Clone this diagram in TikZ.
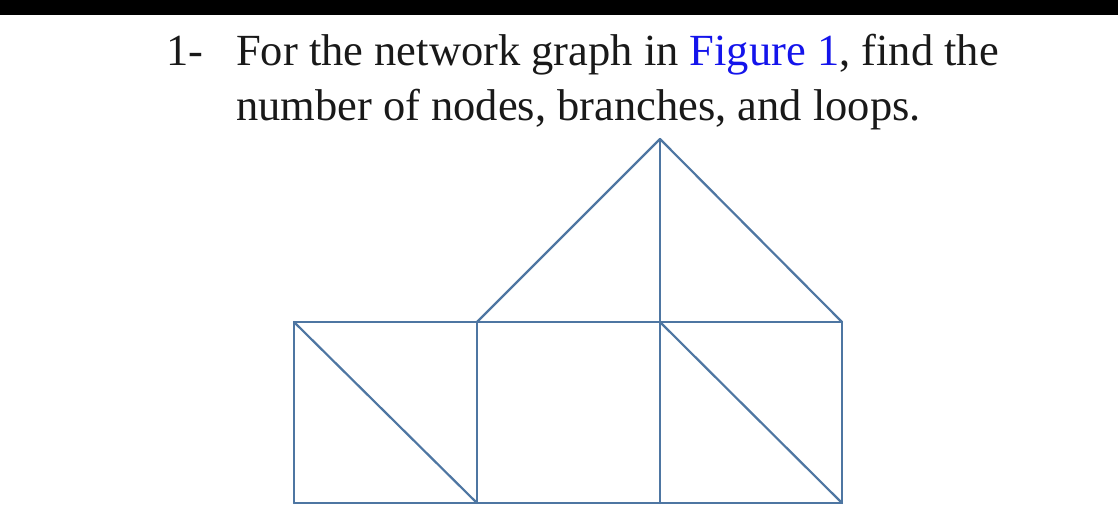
\documentclass[tikz,border=0pt]{standalone}
\usepackage{fontspec}
\setmainfont{Liberation Serif}
\definecolor{edgeblue}{RGB}{78,118,162}
\definecolor{linkblue}{RGB}{20,20,235}
\begin{document}
\begin{tikzpicture}[x=1pt,y=-1pt,
  branch/.style={draw=edgeblue,line width=2.2pt,line cap=round,line join=round},
  txt/.style={anchor=base west,inner sep=0pt,font=\fontsize{44.5}{52}\selectfont,text=black!90}]
\useasboundingbox (0,0) rectangle (1118,507);
\fill[black] (0,0) rectangle (1118,15);
\node[txt] (num) at (166,65) {1-};
\node[txt] (l1) at (236,65) {For the network graph in \textcolor{linkblue}{Figure 1}, find the};
\node[txt] (l2) at (236,120) {number of nodes, branches, and loops.};
\coordinate (a) at (294,322);
\coordinate (b) at (477,322);
\coordinate (c) at (660,322);
\coordinate (d) at (842,322);
\coordinate (e) at (294,503);
\coordinate (f) at (477,503);
\coordinate (g) at (660,503);
\coordinate (h) at (842,503);
\coordinate (top) at (660,139);
\draw[branch] (a) -- (b);
\draw[branch] (b) -- (c);
\draw[branch] (c) -- (d);
\draw[branch] (e) -- (f);
\draw[branch] (f) -- (g);
\draw[branch] (g) -- (h);
\draw[branch] (a) -- (e);
\draw[branch] (b) -- (f);
\draw[branch] (c) -- (g);
\draw[branch] (d) -- (h);
\draw[branch] (a) -- (f);
\draw[branch] (c) -- (h);
\draw[branch] (b) -- (top);
\draw[branch] (top) -- (d);
\draw[branch] (top) -- (c);
\end{tikzpicture}
\end{document}
